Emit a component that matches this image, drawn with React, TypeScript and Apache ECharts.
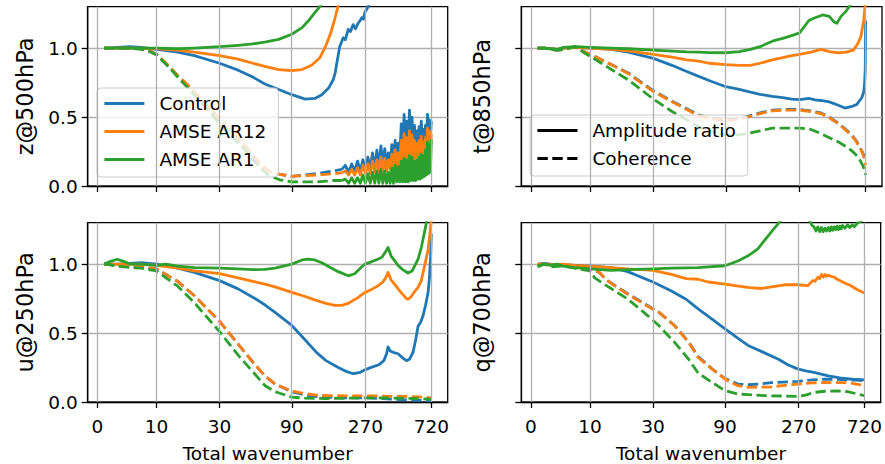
import React, { useEffect, useRef } from "react";
import * as echarts from "echarts";

// ---------- labels ----------
const TICK_WAVENUMBERS = [0, 10, 30, 90, 270, 720];
const Y_TICKS = [0, 0.5, 1.0];
const Y_MAX = 1.3;
const PANEL_NAMES = ["z@500hPa", "t@850hPa", "u@250hPa", "q@700hPa"];
const MODEL_NAMES = ["Control", "AMSE AR12", "AMSE AR1"];
const STYLE_NAMES = ["Amplitude ratio", "Coherence"];
const COLORS = ["#1f77b4", "#ff7f0e", "#2ca02c"];
const X_LABEL = "Total wavenumber";

// ---------- z@500hPa ----------
const z500AmpControl = [[1,1.0],[2,1.0],[3,1.005],[5,1.01],[7,1.005],[10,0.99],[15,0.97],[20,0.945],[30,0.89],[40,0.84],[50,0.79],[60,0.74],[74,0.70],[90,0.662],[110,0.63],[127,0.635],[141,0.662],[156,0.71],[167,0.77],[172,0.82],[175,0.87],[180,0.95],[184,1.01],[190,1.05],[194,1.075],[200,1.06],[209,1.135],[216,1.12],[225,1.17],[233,1.14],[242,1.18],[250,1.2],[255,1.22],[262,1.21],[268,1.26],[281,1.30],[300,1.36],[320,1.42]];
const z500AmpAR12 = [[1,1.0],[2,1.0],[3,1.0],[5,1.0],[7,1.0],[10,0.995],[15,0.985],[20,0.97],[30,0.945],[40,0.92],[50,0.89],[60,0.868],[74,0.844],[90,0.837],[105,0.844],[121,0.875],[137,0.93],[150,1.02],[160,1.10],[170,1.20],[180,1.31],[190,1.4]];
const z500AmpAR1 = [[1,1.0],[2,1.0],[3,1.0],[5,1.0],[7,1.0],[10,1.0],[15,0.995],[20,1.0],[30,1.01],[40,1.02],[50,1.03],[60,1.043],[74,1.063],[90,1.10],[105,1.148],[115,1.196],[127,1.257],[141,1.317],[160,1.4]];
const z500CohControl = [[1,1.0],[2,1.0],[3,1.0],[5,1.0],[7,0.995],[8,0.99],[10,0.955],[13,0.86],[15,0.80],[17,0.75],[20,0.68],[26,0.555],[33,0.43],[43,0.31],[55,0.17],[63,0.11],[75,0.085],[90,0.07],[110,0.08],[130,0.09],[150,0.1],[170,0.11],[190,0.12]];
const z500CohAR12 = [[1,1.0],[2,1.0],[3,1.0],[5,1.0],[7,0.995],[8,0.99],[10,0.955],[13,0.865],[15,0.80],[17,0.755],[20,0.685],[26,0.56],[33,0.435],[43,0.31],[55,0.17],[63,0.11],[75,0.085],[90,0.072],[110,0.075],[130,0.08],[150,0.085],[170,0.09],[190,0.095]];
const z500CohAR1 = [[1,1.0],[2,1.0],[3,1.0],[5,1.0],[7,0.99],[8,0.985],[10,0.95],[13,0.855],[15,0.79],[17,0.735],[20,0.66],[26,0.53],[33,0.40],[43,0.28],[55,0.14],[63,0.08],[75,0.045],[90,0.03],[110,0.03],[130,0.03],[150,0.035],[170,0.04],[190,0.04]];
// dense, noisy high-wavenumber part of the z@500hPa coherence
const z500TailWavenumbers = [200,210,220,230,240,250,260,270,280,290,300,310,320,330,340,350,360,370,380,390,400,410,420,430,440,450,460,470,480,490,500,510,520,530,540,550,560,570,580,590,600,610,620,630,640,650,660,670,680,690,700,710,720];
const z500TailControl = [0.15,0.10,0.16,0.11,0.18,0.11,0.19,0.12,0.21,0.13,0.24,0.13,0.26,0.14,0.29,0.15,0.27,0.16,0.24,0.17,0.30,0.18,0.33,0.19,0.31,0.20,0.45,0.22,0.52,0.24,0.47,0.26,0.55,0.27,0.50,0.28,0.44,0.29,0.40,0.30,0.43,0.31,0.47,0.32,0.41,0.33,0.44,0.34,0.52,0.35,0.48,0.36,0.47];
const z500TailAR12 = [0.11,0.08,0.12,0.08,0.13,0.08,0.15,0.09,0.16,0.09,0.18,0.10,0.19,0.10,0.21,0.11,0.20,0.11,0.19,0.12,0.23,0.13,0.26,0.13,0.24,0.14,0.33,0.15,0.38,0.16,0.35,0.17,0.40,0.18,0.37,0.19,0.33,0.20,0.31,0.21,0.33,0.22,0.36,0.23,0.32,0.24,0.35,0.25,0.42,0.26,0.40,0.27,0.38];
const z500TailAR1 = [0.05,0.02,0.06,0.02,0.06,0.02,0.08,0.02,0.09,0.02,0.10,0.02,0.11,0.02,0.12,0.02,0.11,0.02,0.10,0.02,0.13,0.02,0.15,0.03,0.14,0.03,0.18,0.03,0.20,0.03,0.19,0.03,0.22,0.04,0.21,0.04,0.18,0.04,0.19,0.05,0.21,0.05,0.23,0.06,0.22,0.07,0.26,0.08,0.32,0.09,0.30,0.10,0.34];

// ---------- t@850hPa ----------
const t850AmpControl = [[1,1.0],[2,1.0],[3,0.995],[4,0.99],[5,1.0],[7,1.005],[10,1.0],[15,0.99],[20,0.97],[30,0.925],[40,0.875],[50,0.83],[60,0.795],[70,0.765],[90,0.72],[110,0.70],[130,0.68],[150,0.665],[180,0.65],[210,0.64],[240,0.63],[270,0.626],[310,0.635],[340,0.625],[370,0.62],[420,0.61],[480,0.585],[530,0.565],[580,0.575],[630,0.59],[680,0.64],[700,0.68],[710,0.75],[716,0.85],[720,1.2]];
const t850AmpAR12 = [[1,1.0],[2,1.0],[3,0.995],[4,0.99],[5,1.0],[7,1.005],[10,1.0],[15,0.99],[20,0.98],[30,0.955],[40,0.935],[50,0.915],[60,0.905],[70,0.89],[90,0.88],[110,0.875],[130,0.875],[150,0.89],[180,0.915],[210,0.93],[240,0.945],[270,0.955],[320,0.97],[370,0.99],[420,0.975],[480,0.965],[540,0.97],[600,0.985],[640,1.03],[670,1.08],[700,1.2],[720,1.35]];
const t850AmpAR1 = [[1,1.0],[2,1.0],[3,0.995],[4,0.99],[5,1.005],[7,1.01],[10,1.005],[15,1.0],[20,0.995],[30,0.985],[40,0.978],[50,0.972],[60,0.97],[70,0.967],[90,0.966],[110,0.975],[130,0.99],[150,1.01],[180,1.05],[210,1.07],[240,1.09],[270,1.11],[310,1.2],[340,1.22],[380,1.24],[420,1.23],[450,1.19],[470,1.18],[500,1.23],[540,1.27],[580,1.32],[620,1.36]];
const t850CohControl = [[1,1.0],[2,1.0],[3,0.99],[4,0.985],[5,0.99],[7,1.01],[9,0.97],[10,0.955],[15,0.88],[20,0.82],[30,0.69],[40,0.615],[50,0.56],[60,0.515],[70,0.495],[90,0.48],[110,0.49],[130,0.51],[150,0.53],[180,0.55],[210,0.555],[240,0.555],[270,0.555],[320,0.545],[370,0.53],[420,0.50],[480,0.455],[530,0.415],[580,0.375],[620,0.335],[660,0.285],[690,0.24],[710,0.21],[720,0.19]];
const t850CohAR12 = [[1,1.0],[2,1.0],[3,0.99],[4,0.985],[5,0.99],[7,1.01],[9,0.97],[10,0.955],[15,0.88],[20,0.815],[30,0.685],[40,0.61],[50,0.555],[60,0.51],[70,0.49],[90,0.475],[110,0.485],[130,0.505],[150,0.525],[180,0.545],[210,0.55],[240,0.55],[270,0.55],[320,0.54],[370,0.525],[420,0.495],[480,0.45],[530,0.41],[580,0.37],[620,0.33],[660,0.28],[690,0.235],[710,0.19],[720,0.15]];
const t850CohAR1 = [[1,1.0],[2,1.0],[3,0.99],[4,0.985],[5,0.99],[7,1.01],[9,0.96],[10,0.94],[15,0.845],[20,0.77],[30,0.63],[40,0.54],[50,0.48],[60,0.43],[70,0.40],[90,0.37],[110,0.37],[130,0.385],[150,0.40],[180,0.42],[210,0.42],[240,0.42],[270,0.42],[320,0.41],[370,0.38],[420,0.35],[480,0.32],[530,0.29],[580,0.26],[620,0.23],[660,0.19],[690,0.15],[710,0.11],[720,0.08]];

// ---------- u@250hPa ----------
const u250AmpControl = [[1,1.0],[2,1.0],[3,1.0],[5,1.005],[7,1.01],[10,1.0],[15,0.97],[20,0.94],[30,0.88],[40,0.82],[50,0.76],[60,0.705],[70,0.65],[90,0.555],[110,0.45],[130,0.36],[150,0.30],[180,0.25],[205,0.22],[225,0.205],[250,0.215],[270,0.235],[300,0.255],[330,0.27],[355,0.30],[370,0.35],[378,0.40],[390,0.37],[408,0.36],[439,0.35],[470,0.32],[497,0.30],[520,0.31],[548,0.36],[570,0.45],[591,0.55],[615,0.58],[636,0.625],[660,0.7],[685,0.79],[700,0.9],[712,1.05],[720,1.22]];
const u250AmpAR12 = [[1,1.0],[2,1.0],[3,1.0],[5,1.0],[7,1.0],[10,0.99],[15,0.97],[20,0.95],[30,0.93],[40,0.90],[50,0.875],[60,0.855],[70,0.835],[90,0.795],[110,0.765],[127,0.74],[150,0.715],[171,0.70],[190,0.70],[209,0.715],[240,0.755],[268,0.794],[300,0.82],[326,0.843],[350,0.87],[365,0.90],[378,0.94],[395,0.885],[420,0.85],[439,0.82],[470,0.78],[497,0.75],[509,0.745],[530,0.76],[560,0.80],[591,0.83],[620,0.88],[652,0.99],[685,1.1],[702,1.2],[720,1.32]];
const u250AmpAR1 = [[1,1.0],[2,1.02],[3,1.035],[4,1.02],[5,1.0],[7,1.0],[10,0.99],[12,1.0],[15,0.985],[20,0.975],[30,0.97],[40,0.965],[50,0.96],[60,0.962],[70,0.97],[90,1.0],[105,1.03],[115,1.036],[127,1.03],[141,1.01],[160,0.975],[180,0.945],[209,0.915],[230,0.93],[250,0.97],[268,1.0],[300,1.02],[326,1.036],[345,1.05],[365,1.09],[378,1.12],[395,1.06],[420,1.02],[439,0.99],[470,0.96],[509,0.935],[540,0.95],[570,1.0],[591,1.036],[620,1.12],[650,1.23],[669,1.30],[690,1.4]];
const u250CohControl = [[1,1.0],[2,0.995],[3,0.99],[5,0.985],[7,0.98],[10,0.965],[15,0.875],[20,0.77],[30,0.585],[40,0.42],[50,0.29],[60,0.19],[70,0.13],[90,0.075],[110,0.05],[130,0.04],[150,0.035],[200,0.03],[270,0.03],[350,0.025],[420,0.02],[500,0.015],[600,0.012],[720,0.01]];
const u250CohAR12 = [[1,1.0],[2,0.995],[3,0.99],[5,0.985],[7,0.98],[10,0.965],[15,0.875],[20,0.77],[30,0.585],[40,0.42],[50,0.29],[60,0.19],[70,0.13],[90,0.08],[110,0.06],[130,0.05],[150,0.047],[200,0.045],[270,0.045],[350,0.043],[420,0.04],[500,0.04],[600,0.037],[720,0.03]];
const u250CohAR1 = [[1,1.0],[2,0.995],[3,0.985],[5,0.975],[7,0.97],[10,0.95],[15,0.84],[20,0.72],[30,0.51],[40,0.34],[50,0.22],[60,0.12],[70,0.075],[90,0.035],[110,0.028],[150,0.025],[200,0.027],[270,0.03],[350,0.03],[420,0.028],[500,0.027],[600,0.025],[720,0.02]];

// ---------- q@700hPa ----------
const q700AmpControl = [[1,1.0],[2,1.005],[3,1.0],[5,0.995],[7,0.99],[10,0.985],[15,0.975],[20,0.945],[30,0.87],[40,0.805],[50,0.745],[60,0.675],[70,0.62],[90,0.53],[110,0.46],[127,0.41],[160,0.36],[200,0.31],[230,0.27],[266,0.24],[300,0.225],[340,0.215],[420,0.19],[500,0.175],[600,0.165],[720,0.16]];
const q700AmpAR12 = [[1,1.0],[2,1.0],[3,0.995],[5,1.0],[7,0.99],[10,0.985],[15,0.975],[20,0.965],[30,0.955],[40,0.925],[50,0.895],[60,0.89],[70,0.87],[90,0.855],[110,0.84],[130,0.83],[155,0.823],[190,0.838],[220,0.85],[266,0.85],[310,0.843],[333,0.88],[345,0.875],[360,0.905],[370,0.895],[380,0.925],[390,0.905],[400,0.925],[410,0.91],[420,0.92],[440,0.91],[460,0.905],[480,0.89],[530,0.867],[590,0.843],[650,0.814],[720,0.79]];
const q700AmpAR1 = [[1,0.985],[2,1.0],[3,0.99],[4,1.0],[5,0.985],[7,0.975],[10,0.965],[15,0.955],[20,0.96],[30,0.965],[40,0.97],[50,0.972],[60,0.975],[70,0.98],[90,0.988],[110,1.024],[127,1.06],[147,1.11],[162,1.17],[179,1.23],[198,1.29],[214,1.34],[250,1.42],[290,1.38],[320,1.31],[330,1.28],[340,1.27],[350,1.24],[360,1.27],[370,1.235],[380,1.265],[390,1.235],[400,1.26],[410,1.24],[420,1.265],[430,1.24],[440,1.27],[450,1.245],[460,1.27],[470,1.25],[480,1.275],[490,1.25],[500,1.275],[510,1.255],[520,1.28],[540,1.26],[560,1.285],[580,1.265],[600,1.285],[620,1.27],[640,1.29],[660,1.30],[680,1.31],[720,1.33]];
const q700CohControl = [[1,0.99],[2,1.0],[3,0.99],[5,0.99],[7,0.98],[10,0.97],[12,0.94],[14,0.88],[20,0.785],[26,0.715],[33,0.65],[42,0.555],[52,0.435],[60,0.33],[74,0.24],[90,0.17],[109,0.13],[127,0.125],[150,0.13],[180,0.14],[266,0.15],[330,0.16],[400,0.165],[480,0.165],[560,0.16],[640,0.158],[720,0.155]];
const q700CohAR12 = [[1,0.99],[2,1.0],[3,0.99],[5,0.99],[7,0.98],[10,0.97],[12,0.94],[14,0.88],[20,0.78],[26,0.71],[33,0.65],[42,0.553],[52,0.432],[60,0.323],[74,0.24],[90,0.167],[109,0.118],[127,0.106],[179,0.11],[266,0.13],[330,0.138],[396,0.142],[480,0.14],[560,0.14],[640,0.13],[720,0.12]];
const q700CohAR1 = [[1,0.98],[2,1.0],[3,0.98],[5,0.985],[7,0.97],[10,0.95],[11,0.90],[14,0.84],[20,0.746],[26,0.65],[33,0.553],[42,0.432],[52,0.31],[60,0.21],[74,0.142],[90,0.082],[109,0.058],[162,0.046],[266,0.041],[300,0.05],[342,0.07],[400,0.078],[483,0.08],[560,0.075],[650,0.058],[720,0.046]];

// ---------- assembly ----------
const pairs = (ls, vs) => ls.map((l, i) => [l, vs[i]]);
const AMPLITUDE = [
  [z500AmpControl, z500AmpAR12, z500AmpAR1],
  [t850AmpControl, t850AmpAR12, t850AmpAR1],
  [u250AmpControl, u250AmpAR12, u250AmpAR1],
  [q700AmpControl, q700AmpAR12, q700AmpAR1],
];
const COHERENCE = [
  [z500CohControl, z500CohAR12, z500CohAR1],
  [t850CohControl, t850CohAR12, t850CohAR1],
  [u250CohControl, u250CohAR12, u250CohAR1],
  [q700CohControl, q700CohAR12, q700CohAR1],
];
// noisy tail continues the z@500hPa coherence from its last point
const Z500_TAIL = [
  [z500CohControl[z500CohControl.length - 1]].concat(pairs(z500TailWavenumbers, z500TailControl)),
  [z500CohAR12[z500CohAR12.length - 1]].concat(pairs(z500TailWavenumbers, z500TailAR12)),
  [z500CohAR1[z500CohAR1.length - 1]].concat(pairs(z500TailWavenumbers, z500TailAR1)),
];

// asinh scale (linear width 10), as in matplotlib's "asinh" axis scale
const scaleX = (l: number) => Math.asinh(l / 10);
const X_LO = scaleX(1);
const X_HI = scaleX(720);
const X_MIN = X_LO - 0.05 * (X_HI - X_LO);
const X_MAX = X_HI + 0.05 * (X_HI - X_LO);
const TICK_POS = TICK_WAVENUMBERS.map(scaleX);

const FONT = "DejaVu Sans";
const GRIDS = [
  { left: 87.7, top: 6.7, width: 360, height: 179.3 },
  { left: 521.3, top: 6.7, width: 360.7, height: 179.3 },
  { left: 87.7, top: 222.7, width: 360, height: 179.6 },
  { left: 521.3, top: 222.7, width: 360.7, height: 179.6 },
];
const LW = 2.8;
const DASH = [10.4, 4.5];

function lineSeries(name, p, color, pts, dashed, z) {
  return {
    name,
    type: "line",
    xAxisIndex: p,
    yAxisIndex: p,
    data: pts.map(([l, v]) => [scaleX(l), v]),
    symbol: "none",
    showSymbol: false,
    clip: true,
    z,
    itemStyle: { color },
    lineStyle: dashed ? { color, width: LW, type: DASH, join: "round" } : { color, width: LW, join: "round" },
  };
}

function buildOption() {
  const grid = GRIDS.map((g) => ({ ...g, show: true, borderColor: "#000", borderWidth: 1.3, backgroundColor: "#fff" }));
  const xAxis = GRIDS.map((_, i) => {
    const bottom = i >= 2;
    return {
      type: "value",
      gridIndex: i,
      min: X_MIN,
      max: X_MAX,
      axisLine: { show: true, onZero: false, lineStyle: { color: "#000", width: 1.3 } },
      axisTick: { show: true, inside: false, length: 6, customValues: TICK_POS, lineStyle: { color: "#000", width: 1.3 } },
      axisLabel: {
        show: bottom,
        customValues: TICK_POS,
        margin: 15,
        fontSize: 18.5,
        fontFamily: FONT,
        color: "#000",
        formatter: (v: number) => {
          const k = TICK_POS.findIndex((p) => Math.abs(p - v) < 1e-6);
          return k >= 0 ? String(TICK_WAVENUMBERS[k]) : "";
        },
      },
      splitLine: { show: false },
      name: bottom ? X_LABEL : "",
      nameLocation: "middle",
      nameGap: 42,
      nameTextStyle: { fontSize: 18.5, fontFamily: FONT, color: "#000" },
    };
  });
  const yAxis = GRIDS.map((_, i) => {
    const left = i % 2 === 0;
    return {
      type: "value",
      gridIndex: i,
      min: 0,
      max: Y_MAX,
      interval: 0.5,
      axisLine: { show: true, onZero: false, lineStyle: { color: "#000", width: 1.3 } },
      axisTick: { show: true, inside: false, length: 6, customValues: Y_TICKS, lineStyle: { color: "#000", width: 1.3 } },
      axisLabel: {
        show: left,
        customValues: Y_TICKS,
        margin: 10,
        fontSize: 18.5,
        fontFamily: FONT,
        color: "#000",
        formatter: (v: number) => v.toFixed(1),
      },
      splitLine: { show: true, lineStyle: { color: "#b0b0b0", width: 1.3 } },
      name: PANEL_NAMES[i],
      nameLocation: "middle",
      nameRotate: 90,
      nameGap: left ? 51 : 28,
      nameTextStyle: { fontSize: 22.5, fontFamily: FONT, color: "#000" },
    };
  });

  const series: any[] = [];
  for (let p = 0; p < 4; p++) {
    // vertical grid lines at the tick positions
    series.push({
      type: "line",
      xAxisIndex: p,
      yAxisIndex: p,
      data: [],
      silent: true,
      z: 1,
      markLine: {
        silent: true,
        symbol: ["none", "none"],
        label: { show: false },
        lineStyle: { color: "#b0b0b0", width: 1.3, type: "solid" },
        data: TICK_POS.map((v) => ({ xAxis: v })),
        animation: false,
      },
    });
    for (let m = 0; m < 3; m++) {
      series.push(lineSeries(MODEL_NAMES[m], p, COLORS[m], AMPLITUDE[p][m], false, 2));
      series.push(lineSeries(MODEL_NAMES[m] + " (coherence)", p, COLORS[m], COHERENCE[p][m], true, 2));
      if (p === 0) {
        series.push(lineSeries(MODEL_NAMES[m] + " (coherence tail)", p, COLORS[m], Z500_TAIL[m], false, 2));
      }
    }
  }
  // style-legend entries (no data)
  series.push({
    name: STYLE_NAMES[0], type: "line", xAxisIndex: 1, yAxisIndex: 1, data: [], symbol: "none",
    itemStyle: { color: "#000" }, lineStyle: { color: "#000", width: LW },
  });
  series.push({
    name: STYLE_NAMES[1], type: "line", xAxisIndex: 1, yAxisIndex: 1, data: [], symbol: "none",
    itemStyle: { color: "#000" }, lineStyle: { color: "#000", width: LW, type: DASH },
  });

  const legendCommon = {
    orient: "vertical",
    itemWidth: 40,
    itemHeight: 14,
    itemGap: 9,
    padding: [6, 12, 8, 6],
    backgroundColor: "rgba(255,255,255,0.8)",
    borderColor: "#cccccc",
    borderWidth: 1,
    borderRadius: 4,
    selectedMode: false,
    itemStyle: { opacity: 0 },
    lineStyle: { width: LW },
    textStyle: { fontSize: 18.5, fontFamily: FONT, color: "#000", padding: [0, 0, 0, 10] },
  };

  return {
    animation: false,
    backgroundColor: "#fff",
    grid,
    xAxis,
    yAxis,
    legend: [
      { ...legendCommon, data: MODEL_NAMES, left: 97, top: 88 },
      { ...legendCommon, data: STYLE_NAMES, left: 530, top: 115 },
    ],
    series,
  };
}

export default function App() {
  const ref = useRef<HTMLDivElement>(null);
  useEffect(() => {
    if (!ref.current) return;
    const chart = echarts.init(ref.current, null, { renderer: "svg" });
    chart.setOption(buildOption() as any);
    return () => chart.dispose();
  }, []);
  return (
    <div
      ref={ref}
      style={{ position: "fixed", left: 0, top: 0, width: 885, height: 464, background: "#fff" }}
    />
  );
}
